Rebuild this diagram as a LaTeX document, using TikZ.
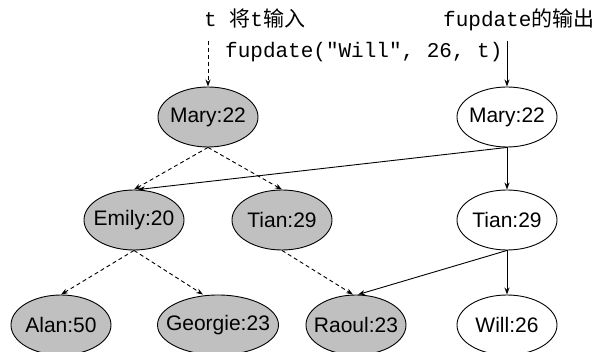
\documentclass[tikz,border=0pt]{standalone}
\usepackage{fontspec}
\setmainfont{Liberation Sans}
\newfontfamily\codefont{Liberation Mono}
\newfontfamily\cjk{Noto Sans CJK SC}
\usetikzlibrary{shapes.geometric,arrows.meta}
\definecolor{oldfill}{RGB}{192,192,192}
\newcommand{\lbl}[1]{\makebox[0pt]{#1}}

\begin{document}
\begin{tikzpicture}[x=1pt, y=-1pt]
  \tikzstyle{person} = [ellipse, draw, line width=0.9pt, minimum width=100pt, minimum height=60pt, inner sep=0pt, font=\fontsize{21}{24}\selectfont]
  \tikzstyle{old} = [person, fill=oldfill]
  \tikzstyle{new} = [person, fill=white]
  \tikzstyle{link} = [line width=0.9pt, -{Stealth[length=7pt,width=5pt]}]
  \tikzstyle{shared} = [link, dash pattern=on 4pt off 3pt]
  \tikzstyle{caption} = [anchor=base west, inner sep=0pt, font=\fontsize{21}{24}\selectfont]

  \useasboundingbox (0,0) rectangle (595,352);

  % Labels
  \node (inlbl) [caption] at (204,27) {\codefont t \cjk 将\codefont t\cjk 输入};
  \node (call) [caption] at (225,58) {\codefont fupdate("Will", 26, t)};
  \node (outlbl) [caption] at (443,27) {\codefont fupdate\cjk 的输出};
  \coordinate (tin) at (208,41);
  \coordinate (tout) at (507,41);

  % Old tree
  \node (mary) [old] at (208,117) {\lbl{Mary:22}};
  \node (emily) [old] at (134,220) {\lbl{Emily:20}};
  \node (tian) [old] at (282,220) {\lbl{Tian:29}};
  \node (alan) [old] at (61,325) {\lbl{Alan:50}};
  \node (georgie) [old, minimum width=121pt] at (218,325) {\lbl{Georgie:23}};
  \node (raoul) [old] at (356,325) {\lbl{Raoul:23}};

  % New tree
  \node (marynew) [new] at (507,117) {\lbl{Mary:22}};
  \node (tiannew) [new] at (507,220) {\lbl{Tian:29}};
  \node (will) [new] at (507,325) {\lbl{Will:26}};

  % Arrows
  \draw[shared] (tin) -- (mary.north);
  \draw[link] (tout) -- (marynew.north);
  \draw[shared] (mary.south) -- (emily.north);
  \draw[shared] (mary.south) -- (tian.north);
  \draw[shared] (emily.south) -- (alan.north);
  \draw[shared] (emily.south) -- ([xshift=-15pt]georgie.north);
  \draw[shared] (tian.south) -- ([xshift=-3pt]raoul.north);
  \draw[link] (marynew.south) -- ([xshift=4pt]emily.north);
  \draw[link] (marynew.south) -- (tiannew.north);
  \draw[link] (tiannew.south) -- ([xshift=2pt]raoul.north);
  \draw[link] (tiannew.south) -- (will.north);

\end{tikzpicture}
\end{document}
